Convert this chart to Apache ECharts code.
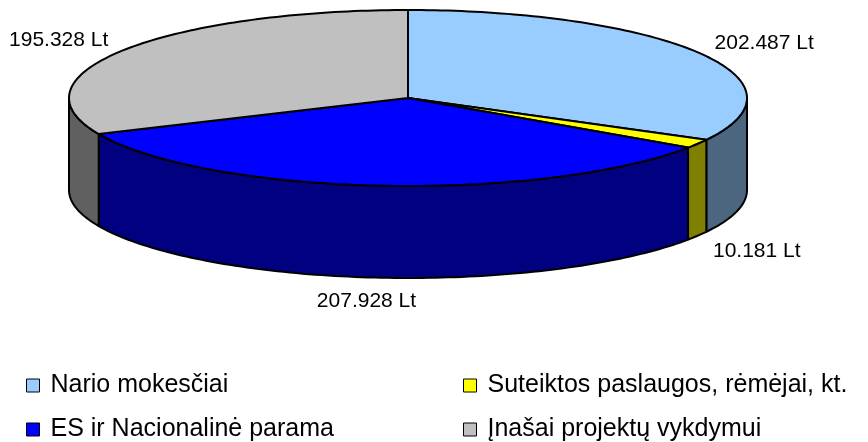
<!DOCTYPE html>
<html>
<head>
<meta charset="utf-8">
<script src="https://cdn.jsdelivr.net/npm/echarts@6/dist/echarts.min.js"></script>
<style>html,body{margin:0;padding:0;background:#fff}#main{width:868px;height:442px}</style>
</head>
<body>
<div id="main"></div>
<script>
// duomenys
const names = ["Nario mokesčiai", "Suteiktos paslaugos, rėmėjai, kt.", "ES ir Nacionalinė parama", "Įnašai projektų vykdymui"];
const values = [202487, 10181, 207928, 195328];
const topColors = ["#99CCFF", "#FFFF00", "#0000FF", "#C0C0C0"];
const sideColors = ["#4C667F", "#808000", "#000080", "#606060"];

// 3D pyrago geometrija
const cx = 408, cy = 98, rx = 339, ry = 88, depth = 92;
const total = values.reduce((a, b) => a + b, 0);
const starts = [];
let acc = 0;
values.forEach(v => { starts.push(acc / total * 2 * Math.PI); acc += v; });

function pt(t, dy) {
    return [cx + rx * Math.sin(t), cy - ry * Math.cos(t) + (dy || 0)];
}
function fmt(v) {
    return String(v).replace(/\B(?=(\d{3})+(?!\d))/g, '.') + ' Lt';
}

function renderSlice(params, api) {
    const i = params.seriesIndex;
    const a0 = starts[i];
    const a1 = a0 + api.value(0) / total * 2 * Math.PI;
    const children = [];
    const line = {stroke: '#000', lineWidth: 2, lineJoin: 'round'};

    // šoninė sienelė (tik priekinė pusė)
    const w0 = Math.max(a0, Math.PI / 2), w1 = Math.min(a1, Math.PI * 1.5);
    if (w1 > w0) {
        const top = [], bot = [];
        const n = Math.max(2, Math.ceil((w1 - w0) / 0.02));
        for (let k = 0; k <= n; k++) {
            const t = w0 + (w1 - w0) * k / n;
            top.push(pt(t));
            bot.unshift(pt(t, depth));
        }
        children.push({type: 'polygon', shape: {points: top.concat(bot)},
            style: Object.assign({fill: sideColors[i]}, line)});
    }

    // viršutinis paviršius
    const face = [[cx, cy]];
    const m = Math.max(2, Math.ceil((a1 - a0) / 0.02));
    for (let k = 0; k <= m; k++) face.push(pt(a0 + (a1 - a0) * k / m));
    children.push({type: 'polygon', shape: {points: face},
        style: Object.assign({fill: topColors[i]}, line)});

    // etiketė
    const mid = (a0 + a1) / 2;
    const s = Math.sin(mid), c = Math.cos(mid);
    const front = c < 0;
    const base = pt(mid, front ? depth + 6 : 0);
    children.push({type: 'text', style: {
        text: fmt(api.value(0)),
        x: base[0] + s * 18 - (front && Math.abs(s) < 0.3 ? 10 : 0), y: base[1] - c * 18,
        fill: '#000', fontSize: 21, fontFamily: 'Liberation Sans, Arial',
        align: s > 0.3 ? 'left' : (s < -0.3 ? 'right' : 'center'),
        verticalAlign: 'middle'
    }});
    return {type: 'group', children: children};
}

const myChart = echarts.init(document.getElementById('main'));
const legendBase = {
    orient: 'vertical',
    top: 373,
    padding: 0,
    icon: 'rect',
    itemWidth: 13,
    itemHeight: 13,
    itemGap: 19,
    selectedMode: false,
    itemStyle: {borderColor: '#000', borderWidth: 1},
    textStyle: {fontSize: 25, lineHeight: 25, color: '#000', fontFamily: 'Liberation Sans, Arial', padding: [0, 0, 0, 6]}
};
myChart.setOption({
    animation: false,
    legend: [
        Object.assign({left: 26, data: [names[0], names[2]]}, legendBase),
        Object.assign({left: 463, data: [names[1], names[3]]}, legendBase)
    ],
    series: names.map((n, i) => ({
        type: 'custom',
        name: n,
        coordinateSystem: 'none',
        silent: true,
        itemStyle: {color: topColors[i]},
        renderItem: renderSlice,
        data: [[values[i]]]
    }))
});
</script>
</body>
</html>
